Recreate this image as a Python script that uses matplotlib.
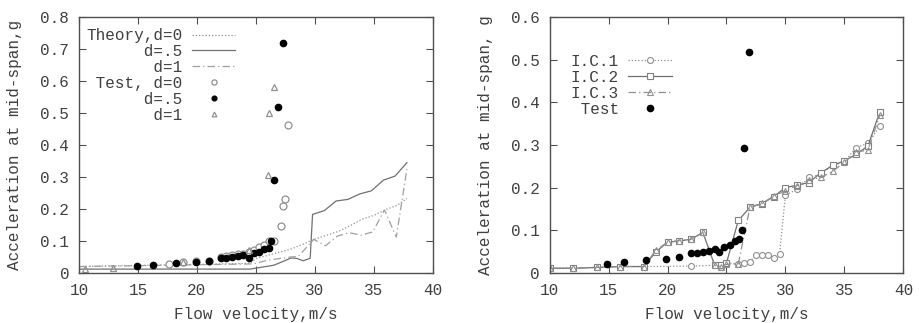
import matplotlib
matplotlib.use('Agg')
import matplotlib.pyplot as plt

# ---- left panel: theory curves ----
th_d0_x = [10, 24.5, 25, 26, 27, 28, 29, 30, 31, 32, 33, 34, 35, 36, 37, 37.8]
th_d0_y = [0.02, 0.03, 0.045, 0.055, 0.065, 0.075, 0.09, 0.106, 0.118, 0.13, 0.148, 0.168, 0.18, 0.198, 0.212, 0.233]

th_d5_x = [10, 24.5, 25.5, 26.5, 27.3, 28.0, 28.5, 29.0, 29.6, 29.8, 30.8, 31.8, 32.8, 33.8, 34.8, 35.8, 36.8, 37.8]
th_d5_y = [0.012, 0.012, 0.018, 0.024, 0.036, 0.047, 0.045, 0.038, 0.046, 0.183, 0.195, 0.225, 0.23, 0.247, 0.257, 0.29, 0.303, 0.345]

th_d1_x = [10, 24.5, 25, 26, 27, 28, 28.6, 29.9, 30.9, 31.9, 32.9, 33.9, 34.9, 35.9, 36.9, 37.8]
th_d1_y = [0.02, 0.028, 0.03, 0.04, 0.045, 0.05, 0.052, 0.105, 0.085, 0.115, 0.126, 0.118, 0.128, 0.197, 0.112, 0.325]

# ---- left panel: test points ----
t_d0_x = [17.6, 18.8, 19.9, 21.0, 22.0, 22.5, 23.0, 23.5, 23.9, 24.4, 24.8, 25.3, 25.7, 26.1, 26.5, 27.1, 27.3, 27.5, 27.7]
t_d0_y = [0.028, 0.035, 0.037, 0.038, 0.05, 0.052, 0.055, 0.058, 0.06, 0.067, 0.072, 0.08, 0.088, 0.1, 0.1, 0.148, 0.208, 0.231, 0.462]

t_d5_x = [14.9, 16.3, 18.2, 19.9, 21.0, 22.0, 22.5, 23.0, 23.5, 23.9, 24.4, 24.8, 25.3, 25.7, 26.1, 26.3, 26.5, 26.9, 27.3]
t_d5_y = [0.021, 0.024, 0.031, 0.033, 0.037, 0.047, 0.047, 0.05, 0.052, 0.056, 0.048, 0.061, 0.066, 0.076, 0.078, 0.1, 0.292, 0.519, 0.72]

t_d1_x = [10.5, 12.9, 18.8, 24.4, 26.0, 26.1, 26.5]
t_d1_y = [0.0125, 0.015, 0.035, 0.072, 0.306, 0.5, 0.58]

# ---- right panel ----
ic1_x = [10, 12, 14, 16, 18, 22, 24, 24.5, 25, 26, 26.5, 27, 27.5, 28, 28.5, 29, 29.5, 30, 31, 32, 33, 34, 35, 36, 37, 38]
ic1_y = [0.011, 0.011, 0.013, 0.015, 0.015, 0.016, 0.018, 0.015, 0.024, 0.021, 0.023, 0.026, 0.041, 0.042, 0.042, 0.036, 0.045, 0.183, 0.196, 0.224, 0.232, 0.252, 0.261, 0.294, 0.304, 0.344]

ic2_x = [10, 12, 14, 16, 18, 19, 20, 21, 22, 23, 24, 24.5, 25, 26, 27, 28, 29, 30, 31, 32, 33, 34, 35, 36, 37, 38]
ic2_y = [0.011, 0.011, 0.013, 0.015, 0.015, 0.049, 0.072, 0.075, 0.079, 0.095, 0.018, 0.018, 0.023, 0.123, 0.154, 0.162, 0.179, 0.2, 0.206, 0.212, 0.235, 0.252, 0.263, 0.278, 0.298, 0.378]

ic3_x = [10, 12, 14, 16, 18, 19, 20, 21, 22, 23, 24, 24.5, 25, 26, 27, 28, 29, 30, 31, 32, 33, 34, 35, 36, 37, 38]
ic3_y = [0.011, 0.011, 0.013, 0.015, 0.015, 0.053, 0.072, 0.076, 0.079, 0.095, 0.018, 0.015, 0.02, 0.021, 0.155, 0.163, 0.18, 0.193, 0.205, 0.218, 0.224, 0.238, 0.26, 0.284, 0.288, 0.37]

test_x = [14.9, 16.3, 18.2, 19.9, 21.0, 22.0, 22.5, 23.0, 23.5, 24.0, 24.4, 24.8, 25.3, 25.7, 26.1, 26.3, 26.5, 26.9]
test_y = [0.022, 0.025, 0.031, 0.033, 0.037, 0.047, 0.047, 0.05, 0.051, 0.056, 0.048, 0.061, 0.066, 0.076, 0.079, 0.1, 0.292, 0.518]

xticks = [10, 15, 20, 25, 30, 35, 40]
yticks_l = [0, 0.1, 0.2, 0.3, 0.4, 0.5, 0.6, 0.7, 0.8]
ylabels_l = ['0', '0.1', '0.2', '0.3', '0.4', '0.5', '0.6', '0.7', '0.8']
yticks_r = [0, 0.1, 0.2, 0.3, 0.4, 0.5, 0.6]
ylabels_r = ['0', '0.1', '0.2', '0.3', '0.4', '0.5', '0.6']

txt = '#404040'
plt.rcParams['font.family'] = ['Liberation Mono', 'DejaVu Sans Mono']
plt.rcParams['font.size'] = 11.5
plt.rcParams['text.color'] = txt
plt.rcParams['axes.labelcolor'] = txt

dotted = (0, (1, 1.6))
dashdot = (0, (6, 2.5, 1, 2.5))

fig = plt.figure(figsize=(9.19, 3.23), dpi=100)
ax1 = fig.add_axes([0.086, 0.155, 0.385, 0.792])
ax2 = fig.add_axes([0.598, 0.155, 0.385, 0.792])


def style(ax, yt, yl, ymax):
    ax.set_xlim(10, 40)
    ax.set_ylim(0, ymax)
    ax.set_xticks(xticks)
    ax.set_yticks(yt)
    ax.set_yticklabels(yl)
    ax.tick_params(direction='in', length=5, top=True, right=True,
                   colors='#505050', labelcolor=txt, pad=7)
    for s in ax.spines.values():
        s.set_color('#505050')
        s.set_linewidth(1.0)
    ax.set_xlabel('Flow velocity,m/s', labelpad=7)


# left
ax1.plot(th_d0_x, th_d0_y, color='#909090', lw=0.9, ls=dotted, label='Theory,d=0')
ax1.plot(th_d5_x, th_d5_y, color='#707070', lw=0.9, label='      d=.5')
ax1.plot(th_d1_x, th_d1_y, color='#a0a0a0', lw=0.9, ls=dashdot, label='       d=1')
ax1.plot(t_d0_x, t_d0_y, 'o', mfc='white', mec='#909090', ms=5, mew=0.9, label=' Test, d=0')
ax1.plot(t_d5_x, t_d5_y, 'o', color='black', ms=4.5, label='      d=.5')
ax1.plot(t_d1_x, t_d1_y, '^', mfc='none', mec='#909090', ms=4.5, mew=0.9, label='       d=1')
style(ax1, yticks_l, ylabels_l, 0.8)
ax1.set_ylabel('Acceleration at mid-span,g', labelpad=13)
ax1.legend(loc='upper left', bbox_to_anchor=(0.02, 0.957), frameon=False,
           markerfirst=False, handlelength=2.7, handletextpad=0.6,
           labelspacing=0.06, borderpad=0, borderaxespad=0, markerscale=0.75)

# right
ax2.plot(ic1_x, ic1_y, color='#909090', lw=0.9, ls=dotted, marker='o', mfc='white',
         mec='#909090', ms=4.3, mew=0.8, label='I.C.1')
ax2.plot(ic2_x, ic2_y, color='#707070', lw=0.9, marker='s', mfc='white',
         mec='#808080', ms=4.3, mew=0.8, label='I.C.2')
ax2.plot(ic3_x, ic3_y, color='#909090', lw=0.9, ls=dashdot, marker='^', mfc='none',
         mec='#909090', ms=4.3, mew=0.8, label='I.C.3')
ax2.plot(test_x, test_y, 'o', color='black', ms=4.5, label=' Test')
style(ax2, yticks_r, ylabels_r, 0.6)
ax2.set_ylabel('Acceleration at mid-span, g', labelpad=13)
ax2.legend(loc='upper left', bbox_to_anchor=(0.06, 0.857), frameon=False,
           markerfirst=False, handlelength=2.7, handletextpad=0.6,
           labelspacing=0.06, borderpad=0, borderaxespad=0)

fig.savefig('out.png', dpi=100)
